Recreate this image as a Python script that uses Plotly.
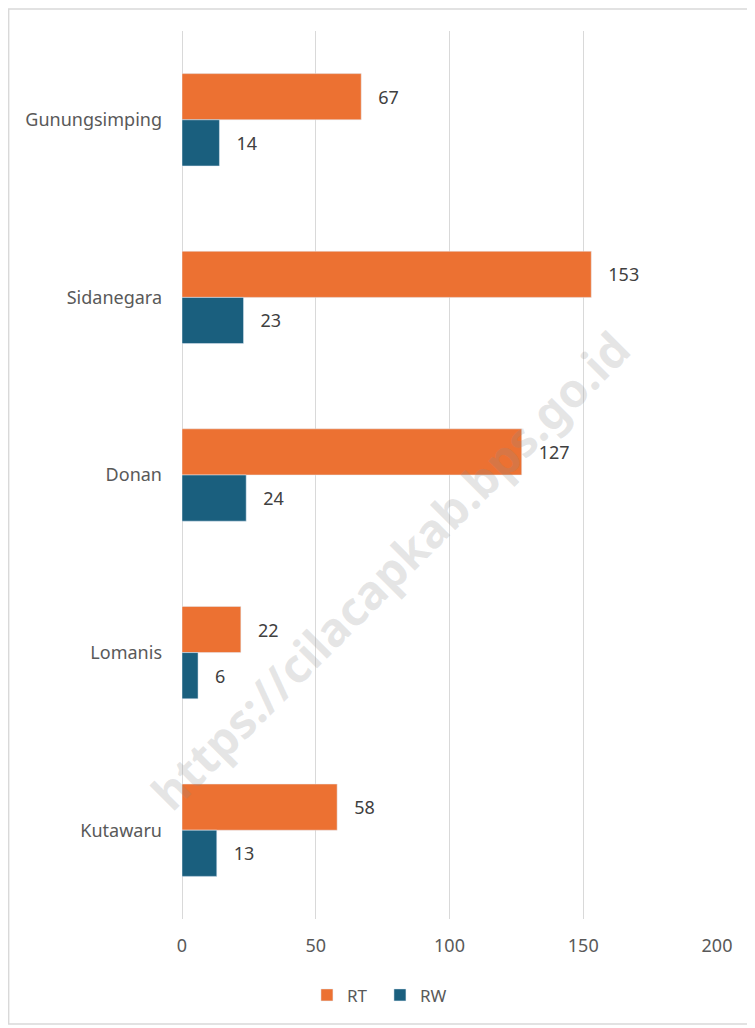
import plotly.graph_objects as go

# data
desa = ['Gunungsimping', 'Sidanegara', 'Donan', 'Lomanis', 'Kutawaru']
rt = [67, 153, 127, 22, 58]
rw = [14, 23, 24, 6, 13]
x_ticks = [0, 50, 100, 150, 200]

orange = '#EC7132'
blue = '#1A5F7E'
font = 'Noto Sans'

fig = go.Figure()

fig.add_trace(go.Bar(
    y=desa, x=rt, name='RT', orientation='h',
    marker_color=orange,
    text=['   ' + str(v) for v in rt],
    textposition='outside',
    textfont=dict(family=font, size=18, color='#404040'),
    cliponaxis=False,
))

fig.add_trace(go.Bar(
    y=desa, x=rw, name='RW', orientation='h',
    marker_color=blue,
    text=['   ' + str(v) for v in rw],
    textposition='outside',
    textfont=dict(family=font, size=18, color='#404040'),
    cliponaxis=False,
))

# page body has an 8px margin, so the figure is sized to fit inside it
fig.update_layout(
    width=747, height=1020,
    margin=dict(l=174, r=38, t=23, b=109),
    paper_bgcolor='white', plot_bgcolor='white',
    barmode='group', bargap=0.48, bargroupgap=0,
    font=dict(family=font, size=18, color='#595959'),
    legend=dict(orientation='h', x=0.37, xanchor='center', y=-0.086, yanchor='middle',
                font=dict(family=font, size=17, color='#595959'), traceorder='normal',
                itemwidth=30, entrywidth=28, entrywidthmode='pixels'),
)

fig.update_xaxes(
    range=[0, 200], tickvals=x_ticks, showgrid=True, gridcolor='#D9D9D9', gridwidth=1,
    zeroline=True, zerolinecolor='#D9D9D9', zerolinewidth=1, showline=False,
    ticklabelstandoff=14, tickfont=dict(family=font, size=18, color='#595959'),
)
fig.update_yaxes(
    autorange='reversed', showgrid=False, showline=False, ticks='',
    ticklabelstandoff=19, tickfont=dict(family=font, size=18, color='#595959'),
)

# outer chart border
fig.add_shape(type='rect', xref='paper', yref='paper',
              x0=-0.324, x1=1.0636, y0=-0.1182, y1=1.0248,
              line=dict(color='#D9D9D9', width=1.5), layer='below')

# watermark
fig.add_annotation(
    text='https://cilacapkab.bps.go.id', xref='paper', yref='paper',
    x=0.389, y=0.393, showarrow=False, textangle=-45,
    font=dict(family=font, size=47, color='rgba(140,140,140,0.22)', weight='bold'),
)

fig.write_html('out.html')
